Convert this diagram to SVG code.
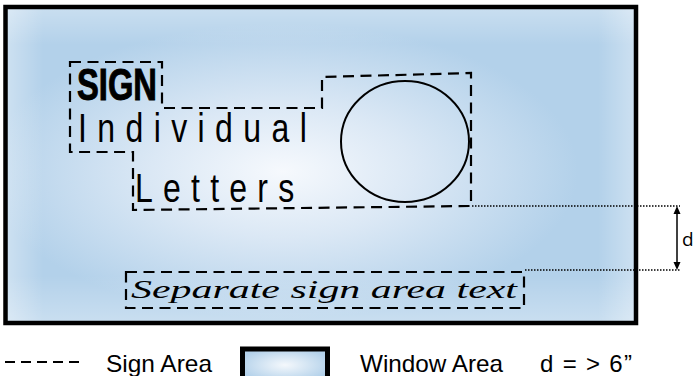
<svg xmlns="http://www.w3.org/2000/svg" width="694" height="376" viewBox="0 0 694 376">
<style>
.dash{fill:none;stroke:#000;stroke-width:2.2;stroke-dasharray:11 6.5}
.dot{fill:none;stroke:#000;stroke-width:1.5;stroke-dasharray:1.5 1.5}
.sans{font-family:"Liberation Sans Narrow","Liberation Sans",Arial,sans-serif;fill:#000}
.big{font-size:40px}
.leg{font-family:"Liberation Sans Narrow","Liberation Sans",Arial,sans-serif;font-size:24px;fill:#000}
.script{font-family:"Liberation Serif","Times New Roman",serif;font-style:italic;font-size:26px;fill:#000}
</style>
<defs>
<radialGradient id="rg" cx="0.44" cy="0.52" r="0.52">
<stop offset="0" stop-color="#f6f9fd"/>
<stop offset="0.4" stop-color="#dbe8f5"/>
<stop offset="0.9" stop-color="#b3d1ea"/>
<stop offset="1" stop-color="#b3d1ea"/>
</radialGradient>
<linearGradient id="gx" x1="0" y1="0" x2="1" y2="0">
<stop offset="0" stop-color="#fff" stop-opacity="0.35"/>
<stop offset="0.06" stop-color="#fff" stop-opacity="0"/>
<stop offset="0.94" stop-color="#fff" stop-opacity="0"/>
<stop offset="1" stop-color="#fff" stop-opacity="0.35"/>
</linearGradient>
<linearGradient id="gy" x1="0" y1="0" x2="0" y2="1">
<stop offset="0" stop-color="#fff" stop-opacity="0.3"/>
<stop offset="0.12" stop-color="#fff" stop-opacity="0"/>
<stop offset="0.85" stop-color="#fff" stop-opacity="0"/>
<stop offset="1" stop-color="#fff" stop-opacity="0.3"/>
</linearGradient>
<radialGradient id="rgs" cx="0.5" cy="0.5" r="0.55">
<stop offset="0" stop-color="#f4f8fc"/>
<stop offset="1" stop-color="#b3d1ea"/>
</radialGradient>
</defs>

<g id="window">
<rect x="5.5" y="7" width="630.5" height="316" fill="url(#rg)"/>
<rect x="5.5" y="7" width="630.5" height="316" fill="url(#gx)"/>
<rect x="5.5" y="7" width="630.5" height="316" fill="url(#gy)"/>
<rect x="5.5" y="7" width="630.5" height="316" fill="none" stroke="#000" stroke-width="4.5"/>
</g>

<g id="sign-area">
<path class="dash" d="M70,62 H162 V108 H322 V77 L471,73 V206 L133,210 V152 H70 Z"/>
<text class="sans" x="77" y="100" font-size="44" font-weight="bold" textLength="80" lengthAdjust="spacingAndGlyphs" stroke="#000" stroke-width="1">SIGN</text>
<g transform="scale(0.8,1)">
<text class="sans big" x="97.5" y="142" textLength="286" lengthAdjust="spacing">Individual</text>
<text class="sans big" x="168.75" y="202" textLength="199" lengthAdjust="spacing">Letters</text>
</g>
</g>

<g id="circle">
<ellipse cx="405" cy="141.5" rx="64" ry="60.5" fill="none" stroke="#000" stroke-width="2"/>
</g>

<g id="separate-sign">
<rect class="dash" x="126" y="272" width="398" height="36"/>
<text class="script" x="131" y="298" textLength="386" lengthAdjust="spacingAndGlyphs">Separate sign area text</text>
</g>

<g id="connectors">
<line class="dot" x1="472" y1="206" x2="680" y2="206"/>
<line class="dot" x1="525" y1="270" x2="680" y2="270"/>
<line x1="677" y1="214" x2="677" y2="262" stroke="#000" stroke-width="1.5"/>
<path d="M677,206 L673.5,214 L680.5,214 Z M677,270 L673.5,262 L680.5,262 Z" fill="#000"/>
</g>

<g id="dimension-label">
<text x="682" y="246" font-family="'Open Sans','Liberation Sans',sans-serif" font-size="19" fill="#000">d</text>
</g>

<g id="legend">
<line class="dash" x1="5" y1="362" x2="85" y2="362" style="stroke-dasharray:10 6"/>
<text class="leg" x="106" y="372" textLength="106" lengthAdjust="spacingAndGlyphs">Sign Area</text>
<rect x="242.5" y="349" width="85" height="32" fill="url(#rgs)" stroke="#000" stroke-width="5"/>
<text class="leg" x="360" y="372" textLength="143" lengthAdjust="spacingAndGlyphs">Window Area</text>
<text class="leg" x="540" y="372" textLength="92" lengthAdjust="spacing">d = &gt; 6”</text>
</g>
</svg>
